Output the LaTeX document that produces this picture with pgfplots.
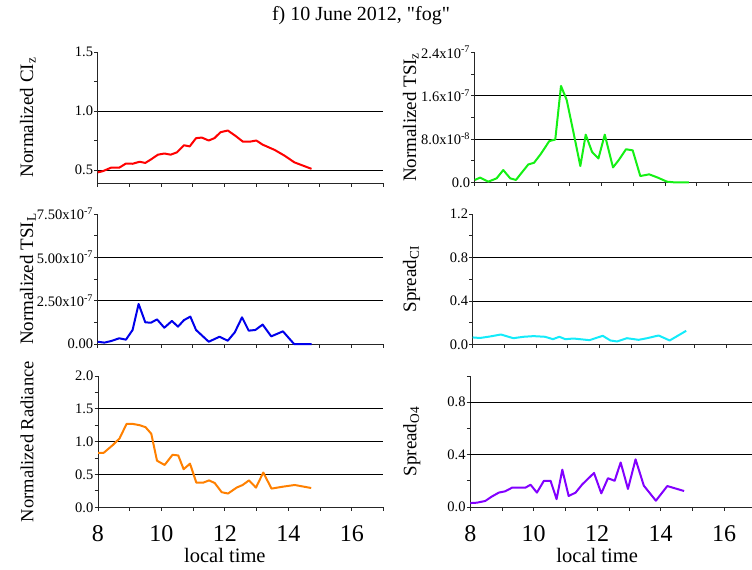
\documentclass[border=0pt]{standalone}
\usepackage{fontspec}
\setmainfont{Liberation Serif}[Ligatures=TeXOff]
\usepackage{pgfplots}
\pgfplotsset{compat=1.18}

\definecolor{cred}{RGB}{255,0,0}
\definecolor{cgreen}{RGB}{20,240,20}
\definecolor{cblue}{RGB}{0,0,235}
\definecolor{ccyan}{RGB}{20,235,250}
\definecolor{corange}{RGB}{255,128,0}
\definecolor{cpurple}{RGB}{130,0,255}

\newcommand{\sci}[2]{#1x10\textsuperscript{#2}}

\pgfplotsset{
  panel/.style={
    scale only axis, width=285.5pt, anchor=south west,
    xmin=8, xmax=17, xtick={8,10,12,14,16}, minor xtick={9,11,13,15,17},
    xticklabels={}, scaled y ticks=false,
    axis x line*=bottom, axis y line*=left,
    axis line style={black!85, line width=0.8pt},
    tick align=outside, major tick length=3.5pt, minor tick length=3.5pt,
    every tick/.style={black!85, line width=0.8pt},
    minor y tick num=1,
    yticklabel style={font=\fontsize{14.5}{16}\selectfont, inner sep=0pt, xshift=-1pt},
    ylabel style={font=\fontsize{19}{22}\selectfont, anchor=base},
    extra y tick labels={},
    extra y tick style={grid=major},
    major grid style={black, line width=0.8pt},
    clip=false,
  },
  bottomrow/.style={
    xticklabels={8,10,12,14,16},
    xticklabel style={font=\fontsize{24}{26}\selectfont, anchor=base, yshift=-31pt},
    xlabel={local time},
    xlabel style={font=\fontsize{20.5}{24}\selectfont, at={(axis description cs:0.4444,0)}, anchor=base, yshift=-55pt},
  },
  dataline/.style={line width=2pt, line join=round, mark=none},
}

\begin{document}
\begin{tikzpicture}
\path[use as bounding box] (0,0) rectangle (752pt,-570pt);
\node[font=\fontsize{20}{24}\selectfont, anchor=base] at (361pt,-20pt) {f) 10 June 2012, "fog"};

% top left: CI_z
\begin{axis}[panel, at={(97.7pt,-183pt)}, height=131pt,
  ymin=0.39, ymax=1.5, ytick={0.5,1,1.5}, yticklabels={0.5,1.0,1.5},
  extra y ticks={0.5,1},
  ylabel={Normalized CI\textsubscript{z}},
  ylabel style={at={(axis description cs:-0.2266,0.5)}}]
\addplot[dataline, cred] coordinates {
(8.0,0.48)(8.16,0.49)(8.42,0.52)(8.68,0.52)(8.89,0.555)(9.1,0.553)(9.32,0.57)
(9.5,0.56)(9.68,0.59)(9.9,0.63)(10.1,0.64)(10.3,0.63)(10.5,0.65)(10.72,0.71)
(10.9,0.70)(11.1,0.77)(11.28,0.775)(11.5,0.75)(11.68,0.77)(11.87,0.82)(12.1,0.835)
(12.34,0.79)(12.58,0.74)(12.79,0.74)(13.0,0.75)(13.2,0.715)(13.58,0.67)(13.9,0.62)
(14.2,0.565)(14.74,0.51)};
\end{axis}

% top right: TSI_z
\begin{axis}[panel, at={(474.7pt,-182.3pt)}, height=130pt,
  ymin=0, ymax=2.4e-7, ytick={0,8e-8,1.6e-7,2.4e-7},
  yticklabels={0.0,\sci{8.0}{-8},\sci{1.6}{-7},\sci{2.4}{-7}},
  extra y ticks={8e-8,1.6e-7},
  ylabel={Normalized TSI\textsubscript{z}},
  ylabel style={at={(axis description cs:-0.2056,0.5)}}]
\addplot[dataline, cgreen] coordinates {
(8.0,0.43e-8)(8.17,0.86e-8)(8.43,0.12e-8)(8.69,0.73e-8)(8.9,2.26e-8)(9.12,0.73e-8)
(9.3,0.43e-8)(9.48,1.77e-8)(9.69,3.3e-8)(9.87,3.6e-8)(10.08,5.2e-8)(10.35,7.6e-8)
(10.54,7.9e-8)(10.72,17.8e-8)(10.9,15.2e-8)(11.1,9.6e-8)(11.33,3.0e-8)(11.5,8.8e-8)
(11.7,5.6e-8)(11.9,4.4e-8)(12.1,8.8e-8)(12.36,2.75e-8)(12.54,4.1e-8)(12.77,6.1e-8)
(12.98,5.9e-8)(13.22,1.16e-8)(13.5,1.47e-8)(13.75,0.92e-8)(14.06,0.12e-8)
(14.27,0)(14.75,0)};
\end{axis}

% middle left: TSI_L
\begin{axis}[panel, at={(97.7pt,-344pt)}, height=130pt,
  ymin=0, ymax=7.5e-7, ytick={0,2.5e-7,5e-7,7.5e-7},
  yticklabels={0.00,\sci{2.50}{-7},\sci{5.00}{-7},\sci{7.50}{-7}},
  extra y ticks={2.5e-7,5e-7},
  ylabel={Normalized TSI\textsubscript{L}},
  ylabel style={at={(axis description cs:-0.2266,0.5)}}]
\addplot[dataline, cblue] coordinates {
(8.0,0.13e-7)(8.21,0.08e-7)(8.42,0.17e-7)(8.68,0.33e-7)(8.89,0.25e-7)(9.1,0.81e-7)
(9.29,2.31e-7)(9.5,1.25e-7)(9.68,1.23e-7)(9.87,1.42e-7)(10.1,0.94e-7)(10.34,1.33e-7)
(10.53,1.0e-7)(10.72,1.38e-7)(10.92,1.58e-7)(11.1,0.81e-7)(11.5,0.13e-7)(11.84,0.42e-7)
(12.1,0.19e-7)(12.32,0.67e-7)(12.55,1.54e-7)(12.76,0.77e-7)(12.97,0.81e-7)(13.2,1.12e-7)
(13.47,0.44e-7)(13.84,0.73e-7)(14.19,0)(14.74,0)};
\end{axis}

% middle right: Spread_CI
\begin{axis}[panel, at={(472.7pt,-344.5pt)}, height=130.5pt,
  ymin=0, ymax=1.2, ytick={0,0.4,0.8,1.2}, yticklabels={0.0,0.4,0.8,1.2},
  extra y ticks={0.4,0.8},
  ylabel={Spread\textsubscript{CI}},
  ylabel style={at={(axis description cs:-0.1986,0.5)}}]
\addplot[dataline, ccyan] coordinates {
(8.0,0.065)(8.23,0.06)(8.55,0.074)(8.89,0.092)(9.28,0.058)(9.6,0.071)(9.92,0.077)
(10.28,0.071)(10.53,0.049)(10.73,0.071)(10.92,0.049)(11.18,0.055)(11.68,0.04)
(12.1,0.08)(12.34,0.037)(12.55,0.028)(12.86,0.058)(13.23,0.043)(13.5,0.058)
(13.86,0.083)(14.21,0.037)(14.73,0.126)};
\end{axis}

% bottom left: Radiance
\begin{axis}[panel, bottomrow, at={(98pt,-507.3pt)}, height=131.3pt,
  ymin=0, ymax=2, ytick={0,0.5,1,1.5,2}, yticklabels={0.0,0.5,1.0,1.5,2.0},
  extra y ticks={0.5,1,1.5},
  ylabel={Normalized Radiance},
  ylabel style={at={(axis description cs:-0.2266,0.5)}, font=\fontsize{18.5}{22}\selectfont}]
\addplot[dataline, corange] coordinates {
(8.0,0.83)(8.18,0.83)(8.47,0.95)(8.68,1.05)(8.9,1.27)(9.1,1.27)(9.32,1.25)(9.5,1.22)
(9.68,1.12)(9.86,0.71)(10.1,0.645)(10.35,0.80)(10.53,0.79)(10.7,0.58)(10.9,0.665)
(11.1,0.376)(11.32,0.376)(11.5,0.41)(11.68,0.37)(11.9,0.23)(12.1,0.21)(12.37,0.30)
(12.56,0.34)(12.76,0.41)(12.98,0.30)(13.21,0.53)(13.47,0.285)(13.84,0.315)(14.2,0.34)
(14.72,0.294)};
\end{axis}

% bottom right: Spread_O4
\begin{axis}[panel, bottomrow, at={(470.3pt,-507pt)}, height=131pt,
  ymin=0, ymax=1, ytick={0,0.4,0.8}, minor ytick={0.2,0.6,1.0}, minor y tick num=0,
  yticklabels={0.0,0.4,0.8},
  extra y ticks={0.4,0.8},
  ylabel={Spread\textsubscript{O4}},
  ylabel style={at={(axis description cs:-0.1891,0.5)}}]
\addplot[dataline, cpurple] coordinates {
(8.0,0.03)(8.21,0.033)(8.47,0.046)(8.68,0.08)(8.9,0.11)(9.1,0.12)(9.32,0.148)
(9.53,0.148)(9.74,0.148)(9.9,0.17)(10.1,0.11)(10.32,0.2)(10.53,0.2)(10.72,0.06)
(10.9,0.285)(11.1,0.084)(11.32,0.11)(11.53,0.173)(11.9,0.26)(12.13,0.104)(12.34,0.22)
(12.55,0.2)(12.74,0.34)(12.97,0.138)(13.21,0.364)(13.47,0.163)(13.85,0.048)
(14.21,0.16)(14.74,0.122)};
\end{axis}
\end{tikzpicture}
\end{document}
